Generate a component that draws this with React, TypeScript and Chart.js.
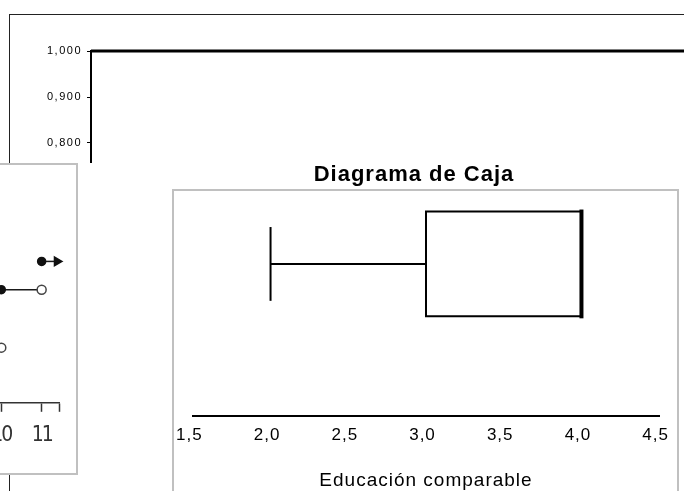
import React, { useEffect, useRef } from 'react';
import { Chart, registerables } from 'chart.js';

Chart.register(...registerables);

// ---------- data ----------
// background chart (cumulative proportion)
const topTickValues = [0, 0.1, 0.2, 0.3, 0.4, 0.5, 0.6, 0.7, 0.8, 0.9, 1.0];
const topLineX = [0, 1];
const topLineY = [1.0, 1.0];

// left panel: step function
const stepStarts = [9, 10, 11];
const stepEnds = [10, 11, 11.38];
const stepLevels = [0.39, 0.8, 1.0];
const leftTickValues = [10, 11];
const leftAxisEnd = 11.43;

// box plot: Educación comparable
const boxLabel = 'Educación comparable';
const boxTitle = 'Diagrama de Caja';
const boxMin = 2.0;
const boxQ1 = 3.0;
const boxMedian = 4.0;
const boxQ3 = 4.0;
const boxMax = 4.0;
const boxTickValues = [1.5, 2.0, 2.5, 3.0, 3.5, 4.0, 4.5];

const FONT = "'Liberation Sans', Arial, sans-serif";
const NARROW = "'Liberation Sans Narrow', 'DejaVu Sans Condensed', 'Liberation Sans', sans-serif";

const comma = (v: number, d: number) => v.toFixed(d).replace('.', ',');

function spacingPlugin(px: string) {
  return {
    id: 'letterSpacing' + px.replace(/[.\-]/g, '_'),
    beforeDraw(chart: any) {
      (chart.ctx as any).letterSpacing = px;
    },
  };
}

const titleShift = {
  id: 'titleShift',
  beforeDraw(chart: any) {
    const tb = chart.titleBlock;
    if (tb && !tb.__shifted) {
      const orig = tb.draw.bind(tb);
      tb.draw = (...args: any[]) => {
        const ctx = chart.ctx;
        ctx.save();
        ctx.translate(-12, 0);
        orig(...args);
        ctx.restore();
      };
      tb.__shifted = true;
    }
  },
};

export default function App() {
  const topRef = useRef<HTMLCanvasElement>(null);
  const leftRef = useRef<HTMLCanvasElement>(null);
  const boxRef = useRef<HTMLCanvasElement>(null);

  useEffect(() => {
    const charts: Chart[] = [];

    // ---- background chart ----
    charts.push(
      new Chart(topRef.current!, {
        type: 'scatter',
        data: {
          datasets: [
            {
              data: topLineX.map((x, i) => ({ x, y: topLineY[i] })),
              showLine: true,
              borderColor: '#000',
              borderWidth: 3,
              pointRadius: 0,
              clip: false as any,
            },
          ],
        },
        options: {
          responsive: false,
          animation: false,
          layout: { padding: { left: 21, top: 36, right: 0, bottom: 64 } },
          plugins: { legend: { display: false }, tooltip: { enabled: false }, title: { display: false } },
          scales: {
            x: { type: 'linear', display: false, min: 0, max: 1 },
            y: {
              type: 'linear',
              min: 0,
              max: 1,
              afterBuildTicks: (s: any) => {
                s.ticks = topTickValues.map((v) => ({ value: v }));
              },
              afterFit: (s: any) => {
                s.width = 60;
              },
              ticks: {
                callback: (v: any) => comma(Number(v), 3),
                font: { family: FONT, size: 11 },
                color: '#000',
                padding: 5,
              },
              grid: { drawOnChartArea: false, drawTicks: true, tickLength: 4, tickColor: '#000', tickWidth: 1 },
              border: { display: true, color: '#000', width: 2 },
            },
          },
        },
        plugins: [spacingPlugin('1.5px')],
      } as any)
    );

    // ---- left panel: step function ----
    const stepSets = stepStarts.map((s, i) => {
      const last = i === stepStarts.length - 1;
      return {
        data: [
          { x: s, y: stepLevels[i] },
          { x: stepEnds[i], y: stepLevels[i] },
        ],
        showLine: true,
        borderColor: '#1a1a1a',
        borderWidth: 1.5,
        pointRadius: last ? [4, 5] : [4, 4.5],
        pointStyle: last ? ['circle', 'triangle'] : ['circle', 'circle'],
        pointRotation: last ? [0, 90] : [0, 0],
        pointBackgroundColor: last ? ['#111', '#111'] : ['#111', '#fff'],
        pointBorderColor: last ? ['#111', '#111'] : ['#111', '#444'],
        pointBorderWidth: 1.5,
        clip: false as any,
      };
    });
    charts.push(
      new Chart(leftRef.current!, {
        type: 'scatter',
        data: { datasets: stepSets },
        options: {
          responsive: false,
          animation: false,
          layout: { padding: { left: 0, top: 54, right: 17, bottom: 14 } },
          plugins: { legend: { display: false }, tooltip: { enabled: false } },
          scales: {
            x: {
              type: 'linear',
              min: 2.2,
              max: leftAxisEnd,
              afterBuildTicks: (s: any) => {
                s.ticks = [...leftTickValues, leftAxisEnd].map((v) => ({ value: v }));
              },
              ticks: {
                callback: (v: any) => (Number.isInteger(Number(v)) ? String(v) : ''),
                font: { family: NARROW, size: 21 },
                color: '#333',
                padding: 11,
                maxRotation: 0,
                autoSkip: false,
              },
              grid: { drawOnChartArea: false, drawTicks: true, tickLength: 9, tickColor: '#333', tickWidth: 1.5 },
              border: { display: true, color: '#333', width: 1.5 },
            },
            y: { type: 'linear', display: false, min: 0, max: 1.3 },
          },
        },
        plugins: [spacingPlugin('-2px')],
      } as any)
    );

    // ---- box plot ----
    const c = 1; // vertical centre of the box (y scale units)
    const h = 0.345; // half height of the box
    const cap = 0.243; // half height of the whisker cap
    const line = (pts: { x: number; y: number }[], w: number, capStyle = 'butt') => ({
      data: pts,
      showLine: true,
      borderColor: '#000',
      borderWidth: w,
      borderCapStyle: capStyle,
      borderJoinStyle: 'miter',
      pointRadius: 0,
      clip: false as any,
    });
    const boxSets: any[] = [
      line([{ x: boxMin, y: c }, { x: boxQ1, y: c }], 2),
      line([{ x: boxMin, y: c - cap }, { x: boxMin, y: c + cap }], 2),
      line(
        [
          { x: boxQ1, y: c - h },
          { x: boxQ3, y: c - h },
          { x: boxQ3, y: c + h },
          { x: boxQ1, y: c + h },
          { x: boxQ1, y: c - h },
        ],
        2,
        'square'
      ),
      line([{ x: boxMedian, y: c - h }, { x: boxMedian, y: c + h }], 4, 'square'),
    ];
    if (boxMax > boxQ3) {
      boxSets.push(line([{ x: boxQ3, y: c }, { x: boxMax, y: c }], 2));
      boxSets.push(line([{ x: boxMax, y: c - cap }, { x: boxMax, y: c + cap }], 2));
    }
    charts.push(
      new Chart(boxRef.current!, {
        type: 'scatter',
        data: { datasets: boxSets },
        options: {
          responsive: false,
          animation: false,
          layout: { padding: { left: 0, top: 0, right: 0, bottom: 0 } },
          plugins: {
            legend: { display: false },
            tooltip: { enabled: false },
            title: {
              display: true,
              text: boxTitle,
              color: '#000',
              font: { family: FONT, size: 22, weight: 'bold', lineHeight: 1 },
              padding: { top: 1, bottom: 2 },
            },
          },
          scales: {
            x: {
              type: 'linear',
              min: 1.5,
              max: 4.5,
              afterBuildTicks: (s: any) => {
                s.ticks = boxTickValues.map((v) => ({ value: v }));
              },
              ticks: {
                callback: (v: any) => comma(Number(v), 1),
                font: { family: FONT, size: 17 },
                color: '#000',
                padding: 9,
                labelOffset: -3.5,
                maxRotation: 0,
                autoSkip: false,
              },
              grid: { drawOnChartArea: false, drawTicks: false },
              border: { display: true, color: '#000', width: 2 },
              title: {
                display: true,
                text: boxLabel,
                color: '#000',
                font: { family: FONT, size: 19 },
                padding: { top: 15, bottom: 1 },
              },
            },
            y: { type: 'linear', display: false, min: 0, max: 1.5 },
          },
        },
        plugins: [spacingPlugin('1px'), titleShift],
      } as any)
    );

    return () => charts.forEach((ch) => ch.destroy());
  }, []);

  const abs = (s: React.CSSProperties): React.CSSProperties => ({ position: 'absolute', ...s });

  return (
    <div
      style={{
        position: 'fixed',
        left: 0,
        top: 0,
        width: 684,
        height: 491,
        overflow: 'hidden',
        background: '#fff',
      }}
    >
      {/* background chart window */}
      <div style={abs({ left: 9, top: 14, width: 1000, height: 1000, border: '1px solid #222', background: '#fff' })} />
      <canvas ref={topRef} width={800} height={560} style={abs({ left: 10, top: 15, width: 800, height: 560 })} />

      {/* box plot window */}
      <div style={abs({ left: 78, top: 163, width: 700, height: 400, background: '#fff' })} />
      <div style={abs({ left: 172, top: 189, width: 503, height: 400, border: '2px solid #c0c0c0' })} />
      <canvas ref={boxRef} width={508} height={330} style={abs({ left: 172, top: 163, width: 508, height: 330 })} />

      {/* left panel window */}
      <div style={abs({ left: -322, top: 163, width: 396, height: 308, border: '2px solid #c0c0c0', background: '#fff' })} />
      <canvas ref={leftRef} width={396} height={308} style={abs({ left: -320, top: 165, width: 396, height: 308 })} />
    </div>
  );
}
